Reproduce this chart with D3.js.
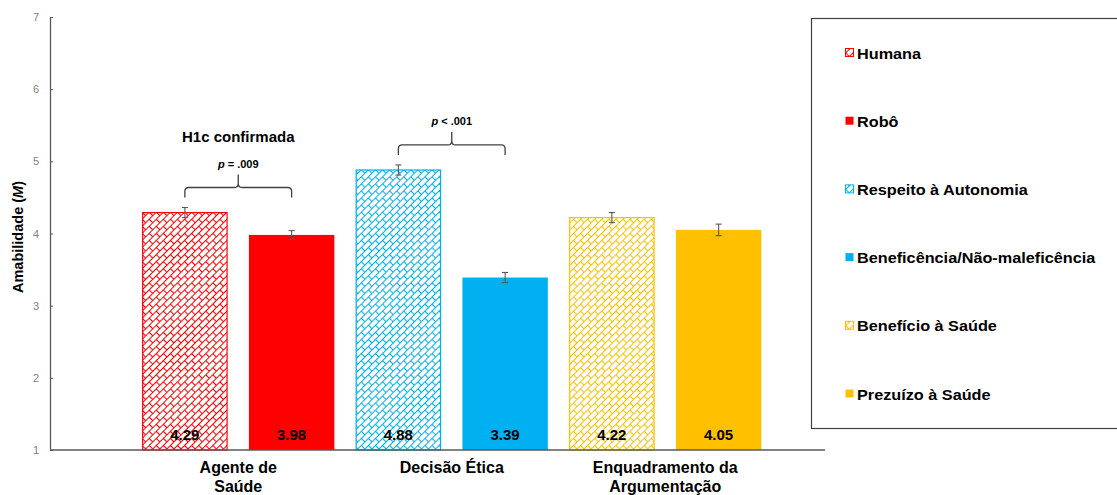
<!DOCTYPE html>
<html>
<head>
<meta charset="utf-8">
<script src="https://cdn.jsdelivr.net/npm/d3@7"></script>
<style>
  body { margin: 0; background: #fff; }
  svg { font-family: "Liberation Sans", Arial, sans-serif; }
</style>
</head>
<body>
<div id="chart"></div>
<script>
// Data.
const groups = ["Agente de Saúde", "Decisão Ética", "Enquadramento da Argumentação"];
const groupLines = [["Agente de", "Saúde"], ["Decisão Ética"], ["Enquadramento da", "Argumentação"]];
const seriesNames = ["Humana", "Robô", "Respeito à Autonomia", "Beneficência/Não-maleficência", "Benefício à Saúde", "Prezuízo à Saúde"];
const seriesGroup = [0, 0, 1, 1, 2, 2];
const seriesValues = [4.29, 3.98, 4.88, 3.39, 4.22, 4.05];
const seriesErrors = [0.07, 0.06, 0.07, 0.07, 0.07, 0.08];
const seriesColors = ["#ff0000", "#ff0000", "#00b0f0", "#00b0f0", "#ffc000", "#ffc000"];
const seriesHatched = [true, false, true, false, true, false];
const yTicks = [1, 2, 3, 4, 5, 6, 7];
const comparisons = [
  { a: 0, b: 1, label: "p = .009", note: "H1c confirmada" },
  { a: 2, b: 3, label: "p < .001", note: null }
];

const width = 1117, height = 495;
const svg = d3.select("#chart").append("svg")
  .attr("width", width)
  .attr("height", height)
  .attr("viewBox", [0, 0, width, height]);

// Hatch patterns (diagonal brick) for the "first" series of each group.
const defs = svg.append("defs");
["#ff0000", "#00b0f0", "#ffc000"].forEach((c, i) => {
  const p = defs.append("pattern")
    .attr("id", `brick${i}`)
    .attr("patternUnits", "userSpaceOnUse")
    .attr("width", 10).attr("height", 10)
    .attr("patternTransform", "rotate(-45)");
  p.append("rect").attr("width", 10).attr("height", 10).attr("fill", "#fff");
  p.append("path")
    .attr("d", "M0,0.5H10M0,5.5H10M0.5,0V5.5M5.5,5.5V10")
    .attr("stroke", c)
    .attr("stroke-width", 1.1)
    .attr("fill", "none");
});

// Scales.
const y = d3.scaleLinear().domain([1, 7]).range([450, 17]);
const x0 = d3.scaleBand().domain(groups).range([131.5, 772]);
const x1 = d3.scaleBand().domain([0, 1]).range([0, x0.bandwidth()]).paddingInner(0.2).paddingOuter(0.1);
const barX = i => x0(groups[seriesGroup[i]]) + x1(i % 2);
const barCx = i => barX(i) + x1.bandwidth() / 2;

// Y axis.
const yAxis = svg.append("g").attr("transform", "translate(50,0)")
  .call(d3.axisLeft(y).tickValues(yTicks).tickFormat(d3.format("d")).tickSizeInner(-3).tickSizeOuter(0).tickPadding(11));
yAxis.select(".domain").attr("stroke", "#595959").attr("stroke-width", 1.3);
yAxis.selectAll(".tick line").attr("stroke", "#595959");
yAxis.selectAll(".tick text").attr("fill", "#7f7f7f").attr("font-size", 11);

svg.append("text")
  .attr("transform", "translate(23,237) rotate(-90)")
  .attr("text-anchor", "middle")
  .attr("font-size", 14.5).attr("font-weight", "bold")
  .call(t => {
    t.append("tspan").text("Amabilidade (");
    t.append("tspan").attr("font-style", "italic").text("M");
    t.append("tspan").text(")");
  });

// Bars.
const idx = d3.range(seriesValues.length);
svg.append("g").selectAll("rect")
  .data(idx)
  .join("rect")
  .attr("x", i => barX(i) + (seriesHatched[i] ? 0.5 : 0))
  .attr("y", i => y(seriesValues[i]))
  .attr("width", i => x1.bandwidth() - (seriesHatched[i] ? 1 : 0))
  .attr("height", i => y(1) - y(seriesValues[i]))
  .attr("fill", i => seriesHatched[i] ? `url(#brick${seriesGroup[i]})` : seriesColors[i])
  .attr("stroke", i => seriesHatched[i] ? seriesColors[i] : "none")
  .attr("stroke-width", 1.2);

// Error bars.
const eb = svg.append("g").attr("stroke", "#595959").attr("stroke-width", 1.1);
idx.forEach(i => {
  const cx = barCx(i);
  const top = y(seriesValues[i] + seriesErrors[i]);
  const bot = y(seriesValues[i] - seriesErrors[i]);
  eb.append("line").attr("x1", cx).attr("x2", cx).attr("y1", top).attr("y2", bot);
  eb.append("line").attr("x1", cx - 3).attr("x2", cx + 3).attr("y1", top).attr("y2", top);
  eb.append("line").attr("x1", cx - 3).attr("x2", cx + 3).attr("y1", bot).attr("y2", bot);
});

// Value labels.
svg.append("g").selectAll("text")
  .data(idx)
  .join("text")
  .attr("x", barCx)
  .attr("y", 440)
  .attr("text-anchor", "middle")
  .attr("font-size", 15).attr("font-weight", "bold")
  .attr("fill", "#000")
  .text(i => seriesValues[i].toFixed(2));

// X axis line.
svg.append("line")
  .attr("x1", 50).attr("x2", 825)
  .attr("y1", y(1)).attr("y2", y(1))
  .attr("stroke", "#595959").attr("stroke-width", 1.3);

// Category labels.
groups.forEach((g, gi) => {
  const t = svg.append("text")
    .attr("x", x0(g) + x0.bandwidth() / 2)
    .attr("y", 473)
    .attr("text-anchor", "middle")
    .attr("font-size", 16).attr("font-weight", "bold");
  groupLines[gi].forEach((l, li) => {
    t.append("tspan").attr("x", x0(g) + x0.bandwidth() / 2).attr("dy", li === 0 ? 0 : 19).text(l);
  });
});

// Significance brackets.
comparisons.forEach(c => {
  const xa = barCx(c.a), xb = barCx(c.b);
  const maxTop = Math.max(seriesValues[c.a] + seriesErrors[c.a], seriesValues[c.b] + seriesErrors[c.b]);
  const legBot = y(maxTop) - 10;
  const barY = legBot - 10;
  const mid = (xa + xb) / 2;
  const r = 4;
  svg.append("path")
    .attr("d", `M${xa},${legBot} V${barY + r} Q${xa},${barY} ${xa + r},${barY} H${mid - r} Q${mid},${barY} ${mid},${barY - r} V${barY - 13} M${mid},${barY - r} Q${mid},${barY} ${mid + r},${barY} H${xb - r} Q${xb},${barY} ${xb},${barY + r} V${legBot}`)
    .attr("fill", "none")
    .attr("stroke", "#404040")
    .attr("stroke-width", 1.3);
  svg.append("text")
    .attr("x", mid).attr("y", barY - 20)
    .attr("text-anchor", "middle")
    .attr("font-size", 11).attr("font-weight", "bold")
    .call(t => {
      t.append("tspan").attr("font-style", "italic").text("p");
      t.append("tspan").text(c.label.slice(1));
    });
  if (c.note) {
    svg.append("text")
      .attr("x", mid).attr("y", barY - 46)
      .attr("text-anchor", "middle")
      .attr("font-size", 15).attr("font-weight", "bold")
      .text(c.note);
  }
});

// Legend.
svg.append("rect")
  .attr("x", 811.5).attr("y", 18.5)
  .attr("width", 320).attr("height", 410)
  .attr("fill", "#fff")
  .attr("stroke", "#404040").attr("stroke-width", 1.2);
const legY = d3.scalePoint().domain(idx).range([53, 394]);
const leg = svg.append("g").selectAll("g")
  .data(idx)
  .join("g")
  .attr("transform", i => `translate(845,${legY(i)})`);
leg.append("rect")
  .attr("x", 0.5).attr("y", -4.5)
  .attr("width", 8).attr("height", 8)
  .attr("fill", i => seriesHatched[i] ? `url(#brick${seriesGroup[i]})` : seriesColors[i])
  .attr("stroke", i => seriesHatched[i] ? seriesColors[i] : "none")
  .attr("stroke-width", 1);
// Legend text is a little wider than plain Arial in the reference.
leg.append("text")
  .attr("transform", "translate(12,5.5) scale(1.16,1)")
  .attr("font-size", 14).attr("font-weight", "bold")
  .text(i => seriesNames[i]);
</script>
</body>
</html>
